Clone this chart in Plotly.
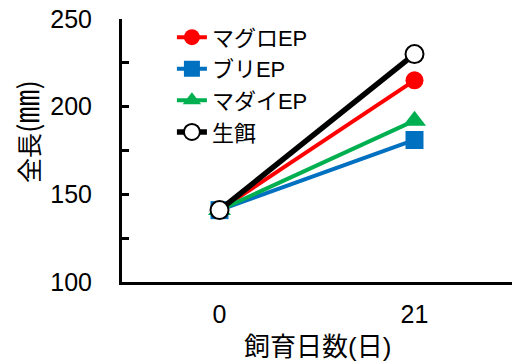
import plotly.graph_objects as go

# Feeding-day categories and total length (mm) per diet
days = ["0", "21"]
series_names = ["マグロEP", "ブリEP", "マダイEP", "生餌"]
maguro_ep = [141, 215]
buri_ep = [141, 181]
madai_ep = [141, 192]
namaesa = [141, 230]

y_ticks = [100, 125, 150, 175, 200, 225, 250]
y_tick_text = ["100", "", "150", "", "200", "", "250"]

jp_font = "Liberation Sans, Arial, Noto Sans CJK JP"

fig = go.Figure()

styles = [
    (maguro_ep, "#ff0000", "circle", 18, 4, "#ff0000"),
    (buri_ep, "#0070c0", "square", 18, 4, "#0070c0"),
    (madai_ep, "#00b050", "triangle-up", 20, 4, "#00b050"),
    (namaesa, "#000000", "circle", 18, 5.5, "#ffffff"),
]

for name, (vals, color, symbol, size, lw, fill) in zip(series_names, styles):
    fig.add_trace(go.Scatter(
        x=days, y=vals, name=name, mode="lines+markers",
        line=dict(color=color, width=lw),
        marker=dict(symbol=symbol, size=size, color=fill,
                    line=dict(color=color, width=2 if fill == "#ffffff" else 0)),
    ))

fig.update_layout(
    width=512, height=364,
    margin=dict(l=122, r=0, t=19, b=82),
    paper_bgcolor="white", plot_bgcolor="white",
    font=dict(family=jp_font, size=25, color="black"),
    showlegend=True,
    legend=dict(x=0.128, y=1.01, xanchor="left", yanchor="top",
                bgcolor="rgba(0,0,0,0)", font=dict(size=22),
                tracegroupgap=0, itemsizing="trace"),
    xaxis=dict(
        type="category", range=[-0.5, 1.5],
        showline=True, linecolor="black", linewidth=3,
        ticks="", showgrid=False, zeroline=False,
        ticklabelstandoff=8,
    ),
    yaxis=dict(
        range=[100, 250], tickvals=y_ticks, ticktext=y_tick_text,
        showline=True, linecolor="black", linewidth=3,
        ticks="inside", ticklen=7, tickwidth=2.5, tickcolor="black",
        showgrid=False, zeroline=False,
        ticklabelstandoff=22,
    ),
    annotations=[
        dict(text="飼育日数(日)", xref="paper", yref="paper",
             x=0.5, y=-0.247, xanchor="center", yanchor="middle",
             showarrow=False, font=dict(size=26)),
        dict(text="全長<span style='font-size:28px'>(</span>"
                  "<span style='font-size:34px'>㎜</span>"
                  "<span style='font-size:28px'>)</span>",
             xref="paper", yref="paper",
             x=-0.25, y=0.572, xanchor="center", yanchor="middle",
             textangle=-90, showarrow=False,
             font=dict(size=25, family="Noto Sans CJK JP")),
    ],
)

fig.write_html("out.html")
